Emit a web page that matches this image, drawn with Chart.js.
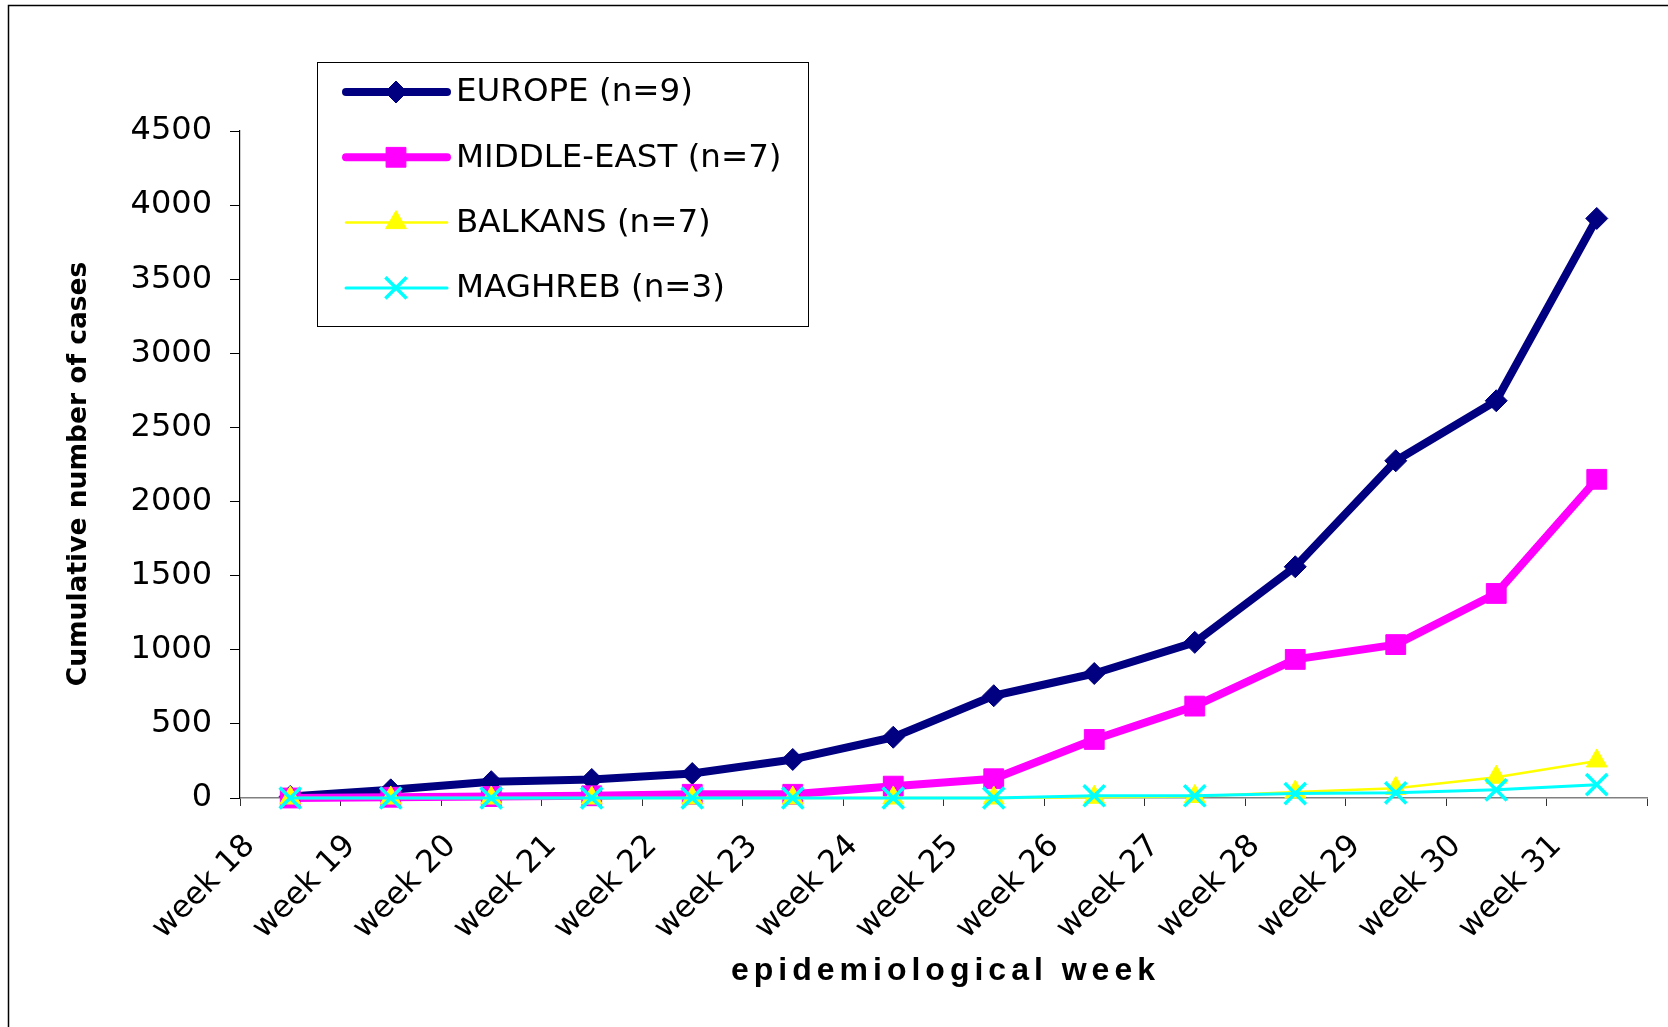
<!DOCTYPE html>
<html>
<head>
<meta charset="utf-8">
<script src="https://cdn.jsdelivr.net/npm/chart.js@4.4.1/dist/chart.umd.min.js"></script>
<style>
  html, body { margin: 0; padding: 0; background: #fff; overflow: hidden; }
</style>
</head>
<body>
<canvas id="myChart" width="1668" height="1027"></canvas>
<script>
const weeks = [
  "week 18", "week 19", "week 20", "week 21", "week 22", "week 23", "week 24",
  "week 25", "week 26", "week 27", "week 28", "week 29", "week 30", "week 31",
];
const europe = [10, 55, 110, 125, 165, 260, 410, 690, 840, 1050, 1560, 2275, 2680, 3910];
const middleEast = [0, 5, 10, 15, 25, 25, 80, 130, 395, 620, 935, 1035, 1380, 2150];
const balkans = [0, 0, 0, 0, 0, 0, 0, 0, 5, 10, 40, 65, 140, 250];
const maghreb = [0, 0, 0, 0, 0, 0, 0, 0, 15, 15, 30, 35, 55, 90];
const seriesNames = ["EUROPE (n=9)", "MIDDLE-EAST (n=7)", "BALKANS (n=7)", "MAGHREB (n=3)"];
const yTicks = [0, 500, 1000, 1500, 2000, 2500, 3000, 3500, 4000, 4500];
const yTitle = "Cumulative number of cases";
const xTitle = "epidemiological week";

// frame, axis titles and the boxed legend inside the plot
const extras = {
  id: 'extras',
  beforeDraw(chart) {
    const c = chart.ctx;
    c.save();
    c.fillStyle = '#fff';
    c.fillRect(0, 0, chart.width, chart.height);
    c.strokeStyle = '#000';
    c.lineWidth = 1.5;
    c.strokeRect(8.5, 5.5, chart.width + 20, chart.height + 20);
    c.restore();
  },
  afterDraw(chart) {
    const c = chart.ctx;

    c.save();
    c.fillStyle = '#000';
    c.font = 'bold 26.5px "DejaVu Sans"';
    c.textAlign = 'center';
    c.textBaseline = 'middle';
    c.translate(79, 474);
    c.rotate(-Math.PI / 2);
    c.fillText(yTitle, 0, 0);
    c.restore();

    c.save();
    c.fillStyle = '#000';
    c.font = 'bold 32px "Liberation Sans"';
    c.letterSpacing = '5px';
    c.textAlign = 'left';
    c.textBaseline = 'alphabetic';
    c.fillText(xTitle, 731, 980);
    c.restore();

    // legend
    c.save();
    c.fillStyle = '#fff';
    c.fillRect(317, 62, 492, 265);
    c.strokeStyle = '#000';
    c.lineWidth = 1;
    c.strokeRect(317.5, 62.5, 491, 264);
    chart.data.datasets.forEach((ds, i) => {
      const y = 92 + i * 65.3;
      c.strokeStyle = ds.borderColor;
      c.lineWidth = ds.borderWidth;
      c.lineCap = 'round';
      c.beginPath();
      c.moveTo(346, y);
      c.lineTo(447, y);
      c.stroke();
      c.fillStyle = ds.pointBackgroundColor;
      c.strokeStyle = ds.pointBorderColor;
      c.lineWidth = ds.pointBorderWidth;
      c.lineCap = 'butt';
      Chart.helpers.drawPoint(c, {
        pointStyle: ds.pointStyle,
        rotation: 0,
        radius: ds.pointRadius,
        borderWidth: ds.pointBorderWidth
      }, 396, y);
      c.fillStyle = '#000';
      c.font = '32.5px "DejaVu Sans"';
      c.textAlign = 'left';
      c.textBaseline = 'middle';
      c.fillText(ds.label, 456, y + 1);
    });
    c.restore();
  }
};

const ctx = document.getElementById('myChart');

new Chart(ctx, {
  type: 'line',
  data: {
    labels: weeks,
    datasets: [{
      label: seriesNames[0],
      data: europe,
      borderColor: '#000080',
      borderWidth: 8,
      pointStyle: 'rectRot',
      pointRadius: 11,
      pointBackgroundColor: '#000080',
      pointBorderColor: '#000080',
      pointBorderWidth: 1,
      clip: false,
      order: 4,
    }, {
      label: seriesNames[1],
      data: middleEast,
      borderColor: '#ff00ff',
      borderWidth: 8,
      pointStyle: 'rect',
      pointRadius: 14,
      pointBackgroundColor: '#ff00ff',
      pointBorderColor: '#ff00ff',
      pointBorderWidth: 1,
      clip: false,
      order: 3,
    }, {
      label: seriesNames[2],
      data: balkans,
      borderColor: '#ffff00',
      borderWidth: 2.5,
      pointStyle: 'triangle',
      pointRadius: 12,
      pointBackgroundColor: '#ffff00',
      pointBorderColor: '#ffff00',
      pointBorderWidth: 1,
      clip: false,
      order: 2,
    }, {
      label: seriesNames[3],
      data: maghreb,
      borderColor: '#00ffff',
      borderWidth: 3,
      pointStyle: 'crossRot',
      pointRadius: 15,
      pointBackgroundColor: '#00ffff',
      pointBorderColor: '#00ffff',
      pointBorderWidth: 3.5,
      clip: false,
      order: 1,
    }]
  },
  options: {
    responsive: false,
    animation: false,
    layout: {
      padding: { left: 100, top: 131, right: 21, bottom: 79 }
    },
    elements: {
      line: { tension: 0, fill: false, borderJoinStyle: 'round' }
    },
    plugins: {
      legend: { display: false },
      tooltip: { enabled: false },
    },
    scales: {
      x: {
        offset: true,
        afterFit(scale) { scale.height = 150; },
        border: { color: '#808080', width: 1.5 },
        grid: {
          offset: true,
          drawOnChartArea: false,
          tickLength: 8,
          color: '#333',
        },
        ticks: {
          autoSkip: false,
          minRotation: 45,
          maxRotation: 45,
          padding: 22,
          labelOffset: -40,
          color: '#000',
          font: { family: 'DejaVu Sans', size: 31 }
        }
      },
      y: {
        min: 0,
        max: 4500,
        afterFit(scale) { scale.width = 140; },
        afterBuildTicks(scale) { scale.ticks = yTicks.map(v => ({ value: v })); },
        border: { color: '#000', width: 1.2 },
        grid: {
          drawOnChartArea: false,
          tickLength: 10,
          color: '#000',
        },
        ticks: {
          padding: 18,
          color: '#000',
          callback: v => String(v),
          font: { family: 'DejaVu Sans', size: 32 }
        }
      }
    }
  },
  plugins: [extras]
});
</script>
</body>
</html>
